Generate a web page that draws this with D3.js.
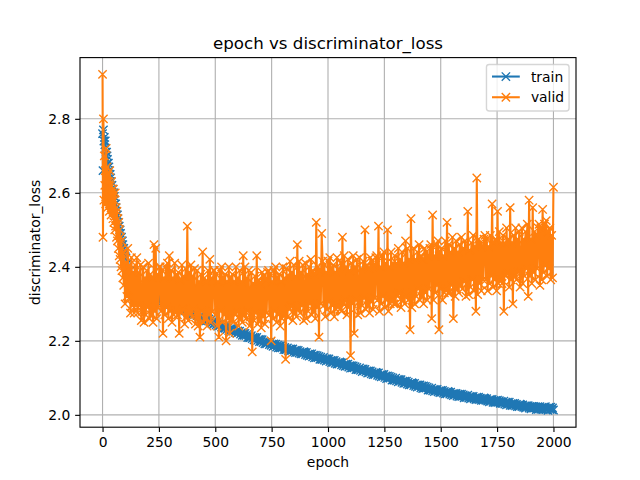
<!DOCTYPE html>
<html>
<head>
<meta charset="utf-8">
<script src="https://cdn.jsdelivr.net/npm/d3@7"></script>
<style>
  html, body { margin: 0; padding: 0; background: #ffffff; }
  svg { display: block; font-family: "DejaVu Sans", sans-serif; }
</style>
</head>
<body>
<svg id="chart" width="640" height="480"></svg>
<script>
// ---------------- data ----------------
const title = "epoch vs discriminator_loss";
const xLabel = "epoch";
const yLabel = "discriminator_loss";
const seriesNames = ["train", "valid"];
const seriesColors = ["#1f77b4", "#ff7f0e"];
const xTicks = [0, 250, 500, 750, 1000, 1250, 1500, 1750, 2000];
const yTicks = [2.0, 2.2, 2.4, 2.6, 2.8];

// sampled epochs: every 2 epochs up to 94, then every 4 epochs up to 2000
const epochs = d3.range(0, 96, 2).concat(d3.range(96, 2001, 4));

const trainLoss = [
  // 0..94 (step 2)
  2.76, 2.66, 2.77, 2.74, 2.75, 2.73, 2.74, 2.72, 2.71, 2.71, 2.70, 2.69,
  2.68, 2.68, 2.67, 2.66, 2.65, 2.65, 2.64, 2.63, 2.62, 2.62, 2.61, 2.61,
  2.60, 2.60, 2.59, 2.58, 2.57, 2.57, 2.56, 2.55, 2.54, 2.54, 2.53, 2.52,
  2.51, 2.51, 2.50, 2.50, 2.49, 2.48, 2.48, 2.47, 2.47, 2.46, 2.45, 2.45,
  // 96.. (step 4)
  2.443, 2.428, 2.424, 2.407, 2.402, 2.389, 2.389, 2.378, 2.377, 2.364, 2.364, 2.353, 2.356, 2.347, 2.350, 2.342, 2.344, 2.335, 2.339, 2.332,
  2.331, 2.336, 2.328, 2.332, 2.325, 2.331, 2.326, 2.330, 2.322, 2.325, 2.319, 2.325, 2.319, 2.324, 2.316, 2.320, 2.313, 2.318, 2.313, 2.319,
  2.317, 2.311, 2.316, 2.308, 2.311, 2.304, 2.310, 2.305, 2.309, 2.301, 2.305, 2.298, 2.304, 2.298, 2.303, 2.296, 2.299, 2.291, 2.296, 2.290,
  2.290, 2.295, 2.287, 2.291, 2.284, 2.290, 2.285, 2.289, 2.281, 2.284, 2.278, 2.284, 2.278, 2.283, 2.275, 2.279, 2.272, 2.276, 2.271, 2.277,
  2.274, 2.268, 2.273, 2.264, 2.267, 2.261, 2.267, 2.262, 2.266, 2.258, 2.261, 2.254, 2.260, 2.254, 2.259, 2.253, 2.256, 2.248, 2.252, 2.246,
  2.246, 2.251, 2.243, 2.247, 2.240, 2.246, 2.241, 2.245, 2.237, 2.240, 2.234, 2.240, 2.234, 2.239, 2.231, 2.235, 2.228, 2.232, 2.228, 2.234,
  2.232, 2.226, 2.231, 2.223, 2.226, 2.220, 2.227, 2.222, 2.226, 2.218, 2.222, 2.215, 2.221, 2.215, 2.220, 2.214, 2.217, 2.209, 2.215, 2.209,
  2.209, 2.214, 2.206, 2.210, 2.203, 2.209, 2.205, 2.209, 2.201, 2.204, 2.198, 2.204, 2.198, 2.203, 2.195, 2.199, 2.192, 2.196, 2.192, 2.198,
  2.196, 2.190, 2.196, 2.188, 2.191, 2.185, 2.192, 2.187, 2.191, 2.183, 2.188, 2.181, 2.187, 2.181, 2.187, 2.181, 2.184, 2.176, 2.182, 2.176,
  2.176, 2.181, 2.174, 2.178, 2.172, 2.178, 2.174, 2.178, 2.170, 2.174, 2.168, 2.175, 2.169, 2.174, 2.167, 2.171, 2.165, 2.169, 2.165, 2.171,
  2.169, 2.163, 2.169, 2.161, 2.164, 2.159, 2.165, 2.160, 2.165, 2.157, 2.161, 2.154, 2.161, 2.155, 2.160, 2.155, 2.158, 2.150, 2.156, 2.150,
  2.150, 2.155, 2.148, 2.152, 2.145, 2.152, 2.147, 2.151, 2.144, 2.147, 2.141, 2.147, 2.142, 2.147, 2.139, 2.144, 2.137, 2.141, 2.137, 2.143,
  2.141, 2.135, 2.141, 2.133, 2.136, 2.131, 2.137, 2.132, 2.137, 2.129, 2.133, 2.126, 2.133, 2.127, 2.132, 2.127, 2.130, 2.122, 2.128, 2.122,
  2.122, 2.127, 2.120, 2.124, 2.117, 2.124, 2.119, 2.123, 2.116, 2.119, 2.113, 2.119, 2.114, 2.119, 2.111, 2.116, 2.109, 2.113, 2.109, 2.115,
  2.113, 2.107, 2.113, 2.105, 2.108, 2.103, 2.109, 2.104, 2.109, 2.101, 2.105, 2.098, 2.105, 2.099, 2.104, 2.099, 2.102, 2.094, 2.100, 2.094,
  2.094, 2.099, 2.092, 2.096, 2.089, 2.096, 2.091, 2.095, 2.088, 2.091, 2.085, 2.091, 2.086, 2.091, 2.083, 2.088, 2.081, 2.085, 2.081, 2.087,
  2.085, 2.079, 2.085, 2.077, 2.081, 2.075, 2.081, 2.077, 2.081, 2.073, 2.078, 2.071, 2.078, 2.072, 2.077, 2.072, 2.075, 2.067, 2.073, 2.067,
  2.067, 2.072, 2.065, 2.069, 2.063, 2.069, 2.065, 2.069, 2.062, 2.065, 2.060, 2.066, 2.061, 2.066, 2.059, 2.063, 2.057, 2.061, 2.057, 2.063,
  2.061, 2.056, 2.061, 2.054, 2.057, 2.052, 2.058, 2.054, 2.058, 2.051, 2.056, 2.049, 2.056, 2.050, 2.056, 2.050, 2.054, 2.046, 2.052, 2.047,
  2.047, 2.053, 2.045, 2.050, 2.043, 2.050, 2.046, 2.050, 2.043, 2.046, 2.041, 2.048, 2.042, 2.048, 2.041, 2.045, 2.039, 2.044, 2.039, 2.046,
  2.044, 2.039, 2.044, 2.037, 2.040, 2.035, 2.042, 2.037, 2.042, 2.034, 2.039, 2.033, 2.039, 2.034, 2.040, 2.034, 2.038, 2.031, 2.036, 2.031,
  2.031, 2.037, 2.029, 2.034, 2.027, 2.034, 2.029, 2.034, 2.026, 2.030, 2.025, 2.031, 2.026, 2.031, 2.024, 2.028, 2.022, 2.026, 2.022, 2.029,
  2.027, 2.022, 2.027, 2.020, 2.024, 2.018, 2.025, 2.021, 2.025, 2.018, 2.023, 2.016, 2.023, 2.018, 2.023, 2.018, 2.022, 2.014, 2.020, 2.015,
  2.016, 2.022, 2.015, 2.020, 2.014, 2.021, 2.017, 2.022, 2.014, 2.018, 2.012, 2.020, 2.015, 2.021, 2.014, 2.019, 2.013
];

const validLoss = [
  // 0..94 (step 2)
  2.92, 2.48, 2.80, 2.58, 2.70, 2.62, 2.66, 2.57, 2.72, 2.60, 2.67, 2.56,
  2.65, 2.59, 2.63, 2.55, 2.66, 2.57, 2.62, 2.54, 2.63, 2.56, 2.60, 2.53,
  2.61, 2.52, 2.58, 2.50, 2.60, 2.51, 2.56, 2.48, 2.55, 2.47, 2.53, 2.45,
  2.52, 2.43, 2.50, 2.42, 2.48, 2.40, 2.47, 2.39, 2.45, 2.37, 2.44, 2.35,
  // 96.. (step 4)
  2.43, 2.30, 2.41, 2.32, 2.45, 2.315, 2.405, 2.275, 2.425, 2.295, 2.385, 2.275, 2.405, 2.295, 2.425, 2.275, 2.385, 2.295, 2.405, 2.255,
  2.28, 2.40, 2.25, 2.37, 2.27, 2.39, 2.29, 2.41, 2.26, 2.38, 2.27, 2.37, 2.25, 2.46, 2.28, 2.45, 2.26, 2.38, 2.29, 2.40,
  2.40, 2.28, 2.39, 2.22, 2.37, 2.27, 2.40, 2.29, 2.41, 2.26, 2.43, 2.28, 2.39, 2.25, 2.37, 2.27, 2.41, 2.28, 2.38, 2.27,
  2.385, 2.22, 2.365, 2.275, 2.405, 2.285, 2.375, 2.245, 2.395, 2.265, 2.51, 2.255, 2.385, 2.275, 2.405, 2.265, 2.375, 2.285, 2.395, 2.245,
  2.27, 2.39, 2.24, 2.36, 2.21, 2.38, 2.28, 2.44, 2.25, 2.37, 2.26, 2.36, 2.24, 2.39, 2.27, 2.42, 2.25, 2.37, 2.28, 2.39,
  2.39, 2.27, 2.38, 2.24, 2.36, 2.21, 2.39, 2.28, 2.40, 2.25, 2.37, 2.27, 2.38, 2.20, 2.36, 2.26, 2.40, 2.22, 2.37, 2.26,
  2.38, 2.25, 2.36, 2.27, 2.40, 2.28, 2.37, 2.24, 2.39, 2.26, 2.36, 2.25, 2.43, 2.27, 2.40, 2.26, 2.37, 2.28, 2.39, 2.24,
  2.265, 2.385, 2.17, 2.355, 2.255, 2.375, 2.275, 2.43, 2.245, 2.365, 2.255, 2.355, 2.235, 2.385, 2.265, 2.375, 2.245, 2.365, 2.275, 2.385,
  2.39, 2.27, 2.38, 2.20, 2.36, 2.26, 2.39, 2.28, 2.40, 2.25, 2.37, 2.27, 2.38, 2.24, 2.36, 2.26, 2.40, 2.27, 2.37, 2.15,
  2.395, 2.265, 2.375, 2.285, 2.415, 2.295, 2.385, 2.255, 2.405, 2.275, 2.375, 2.265, 2.46, 2.285, 2.415, 2.275, 2.385, 2.295, 2.405, 2.255,
  2.29, 2.41, 2.26, 2.38, 2.28, 2.40, 2.30, 2.42, 2.27, 2.39, 2.28, 2.38, 2.26, 2.52, 2.29, 2.40, 2.21, 2.39, 2.30, 2.49,
  2.415, 2.295, 2.405, 2.265, 2.385, 2.285, 2.415, 2.305, 2.425, 2.275, 2.395, 2.295, 2.405, 2.265, 2.385, 2.285, 2.425, 2.295, 2.395, 2.285,
  2.41, 2.28, 2.48, 2.30, 2.43, 2.31, 2.40, 2.27, 2.42, 2.29, 2.39, 2.16, 2.41, 2.30, 2.43, 2.22, 2.40, 2.31, 2.42, 2.27,
  2.305, 2.425, 2.275, 2.395, 2.295, 2.415, 2.315, 2.50, 2.285, 2.405, 2.295, 2.395, 2.275, 2.425, 2.305, 2.415, 2.285, 2.405, 2.315, 2.425,
  2.43, 2.31, 2.51, 2.28, 2.40, 2.30, 2.43, 2.32, 2.44, 2.29, 2.41, 2.31, 2.50, 2.28, 2.40, 2.30, 2.44, 2.31, 2.41, 2.30,
  2.43, 2.30, 2.41, 2.32, 2.45, 2.33, 2.42, 2.29, 2.44, 2.31, 2.41, 2.30, 2.47, 2.32, 2.45, 2.31, 2.42, 2.23, 2.53, 2.29,
  2.33, 2.45, 2.30, 2.42, 2.32, 2.44, 2.34, 2.46, 2.31, 2.43, 2.32, 2.42, 2.30, 2.45, 2.33, 2.44, 2.31, 2.43, 2.34, 2.45,
  2.46, 2.26, 2.54, 2.31, 2.43, 2.33, 2.46, 2.35, 2.47, 2.23, 2.44, 2.34, 2.45, 2.31, 2.43, 2.33, 2.47, 2.34, 2.52, 2.33,
  2.46, 2.33, 2.44, 2.35, 2.48, 2.26, 2.45, 2.32, 2.47, 2.34, 2.44, 2.33, 2.46, 2.35, 2.48, 2.34, 2.45, 2.36, 2.47, 2.32,
  2.355, 2.55, 2.325, 2.445, 2.345, 2.465, 2.365, 2.485, 2.335, 2.455, 2.28, 2.64, 2.325, 2.475, 2.355, 2.465, 2.335, 2.455, 2.365, 2.475,
  2.485, 2.365, 2.475, 2.335, 2.455, 2.355, 2.485, 2.375, 2.57, 2.345, 2.465, 2.365, 2.475, 2.335, 2.55, 2.355, 2.495, 2.365, 2.465, 2.355,
  2.485, 2.28, 2.465, 2.375, 2.505, 2.385, 2.475, 2.345, 2.56, 2.365, 2.465, 2.30, 2.485, 2.375, 2.505, 2.365, 2.475, 2.385, 2.495, 2.345,
  2.385, 2.505, 2.355, 2.475, 2.375, 2.495, 2.395, 2.515, 2.32, 2.58, 2.375, 2.475, 2.355, 2.56, 2.385, 2.495, 2.365, 2.485, 2.395, 2.505,
  2.515, 2.35, 2.505, 2.365, 2.555, 2.385, 2.515, 2.405, 2.525, 2.375, 2.495, 2.395, 2.505, 2.365, 2.485, 2.37, 2.615
];

const seriesValues = [trainLoss, validLoss];

// ---------------- layout (matplotlib defaults @ 100 dpi) ----------------
const W = 640, H = 480;
const pt = 100 / 72;
const pLeft = 0.125 * W, pRight = 0.9 * W, pTop = (1 - 0.88) * H, pBottom = (1 - 0.11) * H;

const svg = d3.select("#chart");

const [x0, x1] = d3.extent(epochs);
const [y0, y1] = d3.extent(trainLoss.concat(validLoss));
const xPad = (x1 - x0) * 0.05, yPad = (y1 - y0) * 0.05;

const x = d3.scaleLinear().domain([x0 - xPad, x1 + xPad]).range([pLeft, pRight]);
const y = d3.scaleLinear().domain([y0 - yPad, y1 + yPad]).range([pBottom, pTop]);

svg.append("rect").attr("width", W).attr("height", H).attr("fill", "#ffffff");

// clip
svg.append("defs").append("clipPath").attr("id", "clip")
  .append("rect").attr("x", pLeft).attr("y", pTop)
  .attr("width", pRight - pLeft).attr("height", pBottom - pTop);

// grid
const grid = svg.append("g").attr("clip-path", "url(#clip)");
grid.selectAll("line.gx").data(xTicks).join("line")
  .attr("class", "gx")
  .attr("x1", d => x(d)).attr("x2", d => x(d))
  .attr("y1", pTop).attr("y2", pBottom)
  .attr("stroke", "#b0b0b0").attr("stroke-width", 0.8 * pt);
grid.selectAll("line.gy").data(yTicks).join("line")
  .attr("class", "gy")
  .attr("y1", d => y(d)).attr("y2", d => y(d))
  .attr("x1", pLeft).attr("x2", pRight)
  .attr("stroke", "#b0b0b0").attr("stroke-width", 0.8 * pt);

// series
const plot = svg.append("g").attr("clip-path", "url(#clip)");
const ms = 6 * pt / 2;
seriesValues.forEach((vals, si) => {
  const n = Math.min(epochs.length, vals.length);
  const pts = epochs.slice(0, n).map((e, i) => [e, vals[i]]);
  const line = d3.line().x(d => x(d[0])).y(d => y(d[1]));
  plot.append("path")
    .attr("d", line(pts))
    .attr("fill", "none")
    .attr("stroke", seriesColors[si])
    .attr("stroke-width", 1.5 * pt)
    .attr("stroke-linejoin", "round")
    .attr("stroke-linecap", "square");
  let m = "";
  pts.forEach(d => {
    const px = x(d[0]), py = y(d[1]);
    m += `M${px - ms},${py - ms}L${px + ms},${py + ms}M${px - ms},${py + ms}L${px + ms},${py - ms}`;
  });
  plot.append("path")
    .attr("d", m)
    .attr("fill", "none")
    .attr("stroke", seriesColors[si])
    .attr("stroke-width", 1.0 * pt);
});

// axes
const tickLen = 3.5 * pt;
const fontTick = 10 * pt;
const xAxis = svg.append("g").attr("transform", `translate(0,${pBottom})`)
  .call(d3.axisBottom(x).tickValues(xTicks).tickSize(tickLen).tickPadding(3.5 * pt).tickFormat(d3.format("d")));
const yAxis = svg.append("g").attr("transform", `translate(${pLeft},0)`)
  .call(d3.axisLeft(y).tickValues(yTicks).tickSize(tickLen).tickPadding(3.5 * pt).tickFormat(d3.format(".1f")));
[xAxis, yAxis].forEach(g => {
  g.select(".domain").remove();
  g.selectAll(".tick line").attr("stroke", "#000").attr("stroke-width", 0.8 * pt);
  g.selectAll(".tick text").attr("fill", "#000")
    .style("font-family", "DejaVu Sans").style("font-size", fontTick + "px");
});

// spines
svg.append("rect")
  .attr("x", pLeft).attr("y", pTop)
  .attr("width", pRight - pLeft).attr("height", pBottom - pTop)
  .attr("fill", "none").attr("stroke", "#000").attr("stroke-width", 0.8 * pt);

// title & labels
svg.append("text").attr("x", (pLeft + pRight) / 2).attr("y", pTop - 6 * pt)
  .attr("text-anchor", "middle")
  .style("font-size", 12 * pt + "px").attr("fill", "#000").text(title);
svg.append("text").attr("x", (pLeft + pRight) / 2).attr("y", 467)
  .attr("text-anchor", "middle")
  .style("font-size", fontTick + "px").attr("fill", "#000").text(xLabel);
svg.append("text").attr("transform", `translate(40,${(pTop + pBottom) / 2}) rotate(-90)`)
  .attr("text-anchor", "middle")
  .style("font-size", fontTick + "px").attr("fill", "#000").text(yLabel);

// legend
const lgW = 82.6, lgH = 46.5;
const lgX = pRight - 0.5 * fontTick - lgW, lgY = pTop + 0.5 * fontTick;
const lg = svg.append("g");
lg.append("rect").attr("x", lgX).attr("y", lgY).attr("width", lgW).attr("height", lgH)
  .attr("rx", 2.8).attr("ry", 2.8)
  .attr("fill", "#ffffff").attr("fill-opacity", 0.8)
  .attr("stroke", "#cccccc").attr("stroke-opacity", 0.8).attr("stroke-width", 1.0 * pt);
seriesNames.forEach((name, i) => {
  const cy = lgY + 12 + i * 20.7;
  const hx0 = lgX + 0.4 * fontTick, hx1 = hx0 + 2 * fontTick;
  lg.append("line").attr("x1", hx0).attr("x2", hx1).attr("y1", cy).attr("y2", cy)
    .attr("stroke", seriesColors[i]).attr("stroke-width", 1.5 * pt);
  const mx = (hx0 + hx1) / 2;
  lg.append("path")
    .attr("d", `M${mx - ms},${cy - ms}L${mx + ms},${cy + ms}M${mx - ms},${cy + ms}L${mx + ms},${cy - ms}`)
    .attr("stroke", seriesColors[i]).attr("stroke-width", 1.0 * pt).attr("fill", "none");
  lg.append("text").attr("x", hx1 + 0.8 * fontTick).attr("y", cy + 5)
    .style("font-size", fontTick + "px").attr("fill", "#000").text(name);
});
</script>
</body>
</html>
